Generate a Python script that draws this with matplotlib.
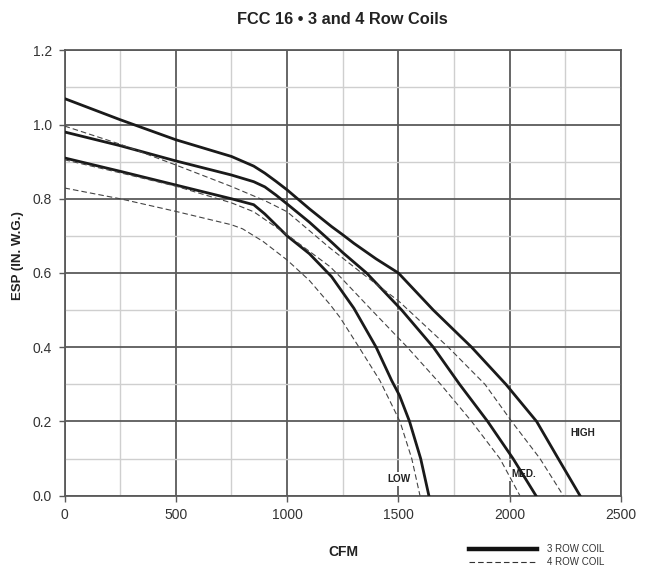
import matplotlib
matplotlib.use("Agg")
import matplotlib.pyplot as plt
from matplotlib.lines import Line2D
from matplotlib.ticker import MultipleLocator

plt.rcParams['font.family'] = ['Liberation Sans', 'DejaVu Sans']
plt.rcParams['lines.scale_dashes'] = False

# ---- data (CFM vs ESP) ----
high3_x = [0, 250, 500, 750, 850, 900, 950, 1000, 1100, 1200, 1250, 1300, 1400, 1500, 1657, 1829, 1983, 2121, 2218, 2316]
high3_y = [1.07, 1.013, 0.959, 0.914, 0.888, 0.869, 0.847, 0.824, 0.773, 0.725, 0.703, 0.68, 0.638, 0.60, 0.50, 0.40, 0.30, 0.20, 0.10, 0.0]

med3_x = [0, 250, 500, 750, 850, 900, 950, 1000, 1100, 1200, 1250, 1357, 1515, 1657, 1775, 1901, 2015, 2118]
med3_y = [0.98, 0.943, 0.902, 0.864, 0.846, 0.832, 0.81, 0.786, 0.737, 0.683, 0.655, 0.60, 0.50, 0.40, 0.30, 0.20, 0.10, 0.0]

low3_x = [0, 250, 500, 750, 850, 900, 1000, 1100, 1200, 1300, 1400, 1470, 1505, 1550, 1600, 1637]
low3_y = [0.91, 0.874, 0.837, 0.80, 0.784, 0.759, 0.70, 0.652, 0.59, 0.505, 0.40, 0.31, 0.27, 0.20, 0.10, 0.0]

high4_x = [0, 250, 500, 750, 900, 1000, 1193, 1335, 1500, 1545, 1724, 1889, 2009, 2136, 2241]
high4_y = [0.996, 0.947, 0.891, 0.833, 0.795, 0.765, 0.667, 0.60, 0.525, 0.50, 0.40, 0.30, 0.20, 0.10, 0.0]

med4_x = [0, 250, 500, 750, 850, 1000, 1193, 1238, 1380, 1540, 1690, 1829, 1956, 2046]
med4_y = [0.905, 0.870, 0.834, 0.789, 0.765, 0.703, 0.617, 0.59, 0.50, 0.40, 0.30, 0.20, 0.10, 0.0]

low4_x = [0, 250, 500, 750, 800, 892, 1000, 1100, 1193, 1238, 1323, 1417, 1507, 1560, 1597]
low4_y = [0.829, 0.80, 0.766, 0.73, 0.719, 0.685, 0.635, 0.58, 0.515, 0.48, 0.40, 0.31, 0.20, 0.10, 0.0]

speed_labels = ["LOW", "MED.", "HIGH"]
speed_label_x = [1503, 2062, 2330]
speed_label_y = [0.045, 0.058, 0.169]

x_ticks = [0, 500, 1000, 1500, 2000, 2500]
y_ticks = [0.0, 0.2, 0.4, 0.6, 0.8, 1.0, 1.2]

legend_labels = ["3 ROW COIL", "4 ROW COIL"]

# ---- figure ----
fig = plt.figure(figsize=(6.52, 5.71), dpi=100)
ax = fig.add_axes([64.5 / 652, 1 - 495.7 / 571, (621 - 64.5) / 652, (495.7 - 50.3) / 571])

major_c = '#5a5a5a'
minor_c = '#cfcfcf'

ax.set_xlim(0, 2500)
ax.set_ylim(0, 1.2)
ax.set_xticks(x_ticks)
ax.set_yticks(y_ticks)
ax.set_yticklabels([f"{v:.1f}" for v in y_ticks])
ax.xaxis.set_minor_locator(MultipleLocator(250))
ax.yaxis.set_minor_locator(MultipleLocator(0.1))
ax.set_axisbelow(True)
ax.grid(which='minor', color=minor_c, lw=1.0)
ax.grid(which='major', color=major_c, lw=1.3)
ax.tick_params(which='minor', length=0)
ax.tick_params(which='major', direction='out', length=4, width=1.0, color=major_c,
               labelsize=10, labelcolor='#333333', pad=5)
for s in ax.spines.values():
    s.set_color(major_c)
    s.set_linewidth(1.3)

solid_kw = dict(color='#1a1a1a', lw=2.0, solid_joinstyle='round', zorder=3)
dash_kw = dict(color='#444444', lw=0.8, linestyle=(0, (4, 2.2)), zorder=3)

ax.plot(high3_x, high3_y, **solid_kw)
ax.plot(med3_x, med3_y, **solid_kw)
ax.plot(low3_x, low3_y, **solid_kw)
ax.plot(high4_x, high4_y, **dash_kw)
ax.plot(med4_x, med4_y, **dash_kw)
ax.plot(low4_x, low4_y, **dash_kw)

for lab, lx, ly in zip(speed_labels, speed_label_x, speed_label_y):
    ax.text(lx, ly, lab, fontsize=7.2, fontweight='bold', color='#222222',
            ha='center', va='center', zorder=1.5,
            bbox=dict(facecolor='white', edgecolor='none', pad=1.5))

fig.text(342 / 652, 1 - 19 / 571, "FCC 16 \u2022 3 and 4 Row Coils", fontsize=11.8,
         fontweight='bold', ha='center', va='center', color='#222222')
fig.text(343 / 652, 1 - 552.5 / 571, "CFM", fontsize=10, fontweight='bold',
         ha='center', va='center', color='#222222')
fig.text(18 / 652, 1 - 256 / 571, "ESP (IN. W.G.)", fontsize=9.5, fontweight='bold',
         ha='center', va='center', rotation=90, color='#222222')

handles = [Line2D([], [], color='#111111', lw=3.2),
           Line2D([], [], color='#333333', lw=0.8, linestyle=(0, (4, 2.2)))]
fig.legend(handles, legend_labels, loc='upper left',
           bbox_to_anchor=(469 / 652, 1 - 544 / 571), bbox_transform=fig.transFigure,
           frameon=False, fontsize=7, handlelength=7.0, handletextpad=1.0,
           borderpad=0, borderaxespad=0, labelspacing=0.35, labelcolor='#333333')

fig.savefig("out.png", dpi=100)
